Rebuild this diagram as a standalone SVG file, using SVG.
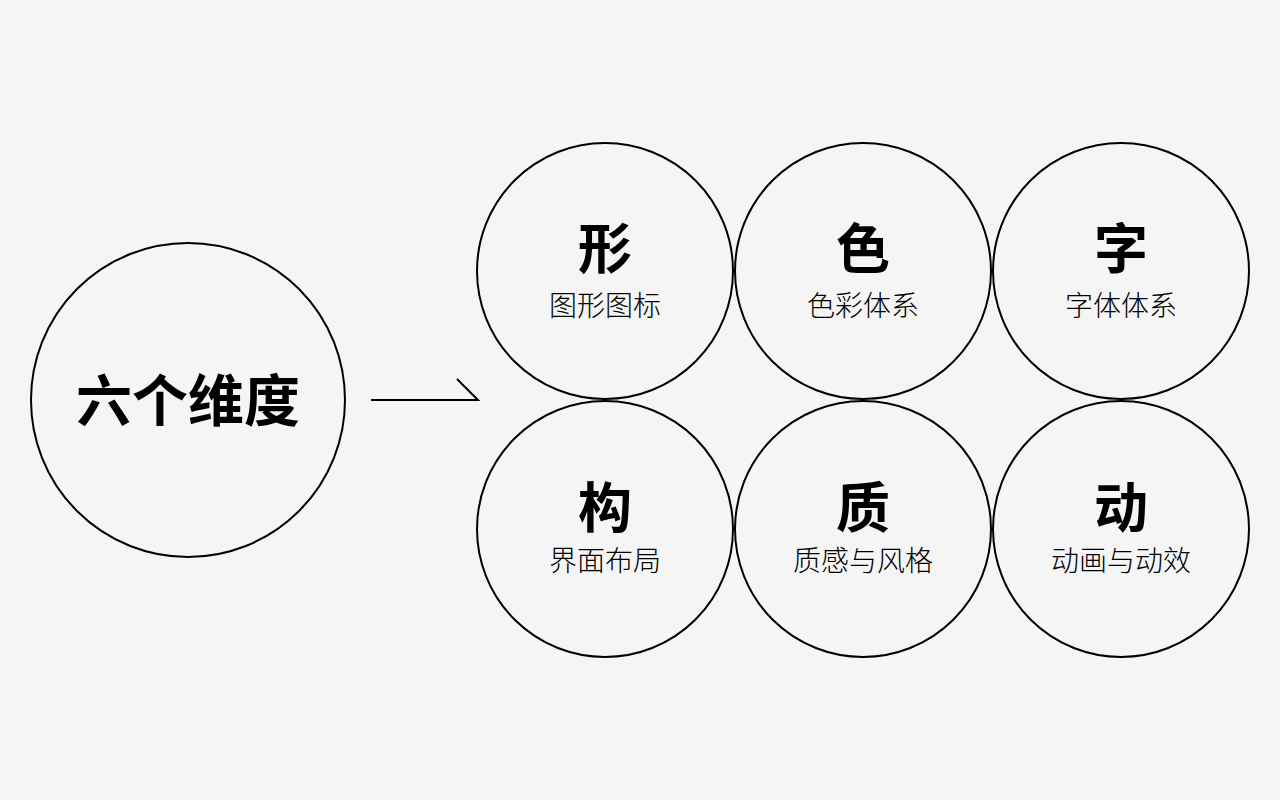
<svg xmlns="http://www.w3.org/2000/svg" width="1280" height="800" viewBox="0 0 1280 800">
<style>
.c{fill:none;stroke:#000;stroke-width:2}
.t{font-family:"Noto Sans CJK SC","Noto Sans",sans-serif;text-anchor:middle;fill:#000}
.big{font-size:56px;font-weight:700}
.h{font-size:54px;font-weight:700}
.s{font-size:28px;font-weight:300}
.ln{fill:none;stroke:#000;stroke-width:2}
</style>
<rect width="1280" height="800" fill="#f5f5f5"/>
<g id="main">
<circle class="c" cx="188" cy="400" r="157"/>
<text class="t big" x="188" y="421">六个维度</text>
</g>
<g id="connectors">
<polyline class="ln" points="371,400 478,400 457,379"/>
</g>
<g id="n1">
<circle class="c" cx="605" cy="271" r="128"/>
<text class="t h" x="605" y="269">形</text>
<text class="t s" x="605" y="316">图形图标</text>
</g>
<g id="n2">
<circle class="c" cx="863" cy="271" r="128"/>
<text class="t h" x="863" y="269">色</text>
<text class="t s" x="863" y="316">色彩体系</text>
</g>
<g id="n3">
<circle class="c" cx="1121" cy="271" r="128"/>
<text class="t h" x="1121" y="269">字</text>
<text class="t s" x="1121" y="316">字体体系</text>
</g>
<g id="n4">
<circle class="c" cx="605" cy="529" r="128"/>
<text class="t h" x="605" y="528">构</text>
<text class="t s" x="605" y="571">界面布局</text>
</g>
<g id="n5">
<circle class="c" cx="863" cy="529" r="128"/>
<text class="t h" x="863" y="528">质</text>
<text class="t s" x="863" y="571">质感与风格</text>
</g>
<g id="n6">
<circle class="c" cx="1121" cy="529" r="128"/>
<text class="t h" x="1121" y="528">动</text>
<text class="t s" x="1121" y="571">动画与动效</text>
</g>
</svg>
